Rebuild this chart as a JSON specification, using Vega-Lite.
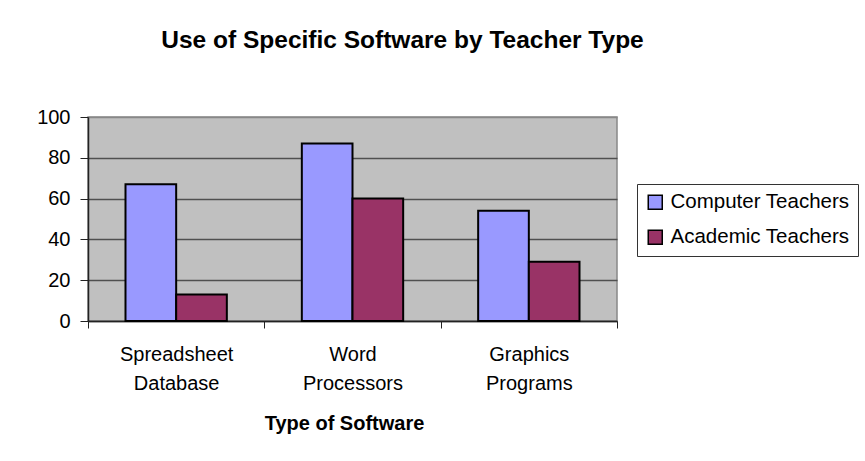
{
  "$schema": "https://vega.github.io/schema/vega-lite/v6.json",
  "width": 529,
  "height": 204,
  "autosize": {"type": "none"},
  "padding": {"left": 88, "top": 117, "right": 248, "bottom": 140},
  "background": "white",
  "title": {
    "text": "Use of Specific Software by Teacher Type",
    "font": "Liberation Sans",
    "fontSize": 24.5,
    "fontWeight": "bold",
    "color": "black",
    "anchor": "middle",
    "frame": "group",
    "dx": 50,
    "baseline": "alphabetic",
    "offset": 35
  },
  "data": {
    "values": [
      {"software": "Spreadsheet Database", "teacher": "Computer Teachers", "percent": 67},
      {"software": "Spreadsheet Database", "teacher": "Academic Teachers", "percent": 13},
      {"software": "Word Processors", "teacher": "Computer Teachers", "percent": 87},
      {"software": "Word Processors", "teacher": "Academic Teachers", "percent": 60},
      {"software": "Graphics Programs", "teacher": "Computer Teachers", "percent": 54},
      {"software": "Graphics Programs", "teacher": "Academic Teachers", "percent": 29}
    ]
  },
  "mark": {"type": "bar", "stroke": "black", "strokeWidth": 2},
  "encoding": {
    "x": {
      "field": "software",
      "type": "nominal",
      "sort": ["Spreadsheet Database", "Word Processors", "Graphics Programs"],
      "scale": {"paddingInner": 0, "paddingOuter": 0},
      "axis": {
        "title": "Type of Software",
        "titleFont": "Liberation Sans",
        "titleFontSize": 20,
        "titleFontWeight": "bold",
        "titleColor": "black",
        "titlePadding": 20,
        "titleX": 256,
        "labelExpr": "datum.value ? split(datum.value, ' ') : ''",
        "labelAngle": 0,
        "labelFont": "Liberation Sans",
        "labelFontSize": 20,
        "labelColor": "black",
        "labelLineHeight": 29,
        "labelPadding": 16,
        "labelBaseline": "top",
        "tickBand": "extent",
        "tickSize": 7,
        "tickColor": "#222",
        "domainColor": "#222",
        "domainWidth": 1.5,
        "grid": false
      }
    },
    "xOffset": {
      "field": "teacher",
      "type": "nominal",
      "sort": ["Computer Teachers", "Academic Teachers"],
      "scale": {"paddingInner": 0, "paddingOuter": 0.74}
    },
    "y": {
      "field": "percent",
      "type": "quantitative",
      "scale": {"domain": [0, 100], "nice": false},
      "axis": {
        "title": null,
        "values": [0, 20, 40, 60, 80, 100],
        "labelFont": "Liberation Sans",
        "labelFontSize": 20,
        "labelColor": "black",
        "labelPadding": 10,
        "tickSize": 8,
        "tickColor": "#222",
        "domainColor": "#222",
        "domainWidth": 1.5,
        "grid": true,
        "gridColor": {"condition": {"test": "datum.value === 100", "value": "#888888"}, "value": "#505050"},
        "gridWidth": 1.5
      }
    },
    "color": {
      "field": "teacher",
      "type": "nominal",
      "scale": {"domain": ["Computer Teachers", "Academic Teachers"], "range": ["#9999FF", "#993366"]},
      "legend": {
        "title": null,
        "orient": "none",
        "legendX": 549,
        "legendY": 67,
        "padding": 8,
        "fillColor": "white",
        "strokeColor": "#333",
        "symbolType": "square",
        "symbolSize": 196,
        "symbolStrokeColor": "black",
        "symbolStrokeWidth": 1.5,
        "symbolOpacity": 1,
        "labelFont": "Liberation Sans",
        "labelFontSize": 20.5,
        "labelColor": "black",
        "labelOffset": 5,
        "labelLimit": 300,
        "rowPadding": 14
      }
    }
  },
  "config": {
    "view": {"fill": "#C0C0C0", "stroke": "#888888", "strokeWidth": 1.5}
  }
}
